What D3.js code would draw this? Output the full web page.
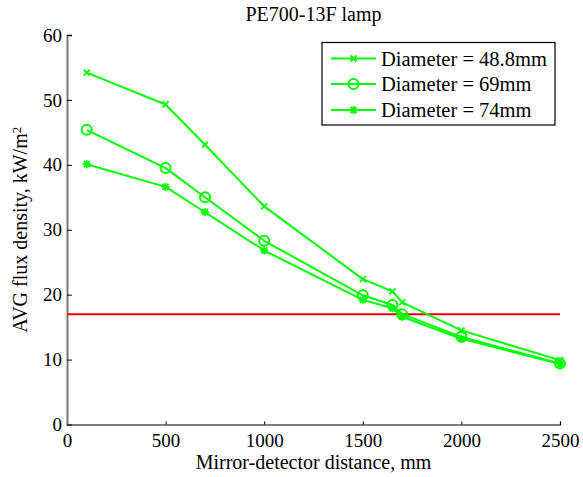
<!DOCTYPE html>
<html>
<head>
<meta charset="utf-8">
<script src="https://cdn.jsdelivr.net/npm/d3@7"></script>
</head>
<body style="margin:0">
<svg id="chart" width="583" height="477"></svg>
<script>
// ---- data ----
const distances = [100, 500, 700, 1000, 1500, 1650, 1700, 2000, 2500];
const flux488 = [54.2, 49.3, 43.1, 33.6, 22.4, 20.5, 18.8, 14.5, 9.9];
const flux69  = [45.4, 39.5, 35.0, 28.3, 19.9, 18.4, 17.0, 13.5, 9.4];
const flux74  = [40.1, 36.6, 32.7, 26.8, 19.2, 17.9, 16.6, 13.2, 9.3];
const seriesNames = ["Diameter = 48.8mm", "Diameter = 69mm", "Diameter = 74mm"];
const seriesMarkers = ["x", "o", "*"];
const thresholdValue = 17;
const xTicks = [0, 500, 1000, 1500, 2000, 2500];
const yTicks = [0, 10, 20, 30, 40, 50, 60];
const titleText = "PE700-13F lamp";
const xLabel = "Mirror-detector distance, mm";
const yLabel = "AVG flux density, kW/m";

const FONT = '"Liberation Serif"';

const series = [flux488, flux69, flux74].map((vals, i) => ({
  name: seriesNames[i], marker: seriesMarkers[i],
  points: distances.map((d, j) => ({x: d, y: vals[j]}))
}));

const svg = d3.select("#chart");
const pLeft = 67, pRight = 560, pTop = 35, pBottom = 424.5;
const x = d3.scaleLinear().domain([0, 2500]).range([pLeft, pRight]);
const y = d3.scaleLinear().domain([0, 60]).range([pBottom, pTop]);
const green = "#00ff00";

function txt(sel, size) {
  return sel.style("font-family", FONT).style("font-size", size + "px").attr("fill", "#000");
}

// axes
const xAxis = svg.append("g").attr("transform", `translate(0,${pBottom})`)
  .call(d3.axisBottom(x).tickValues(xTicks).tickSize(-3).tickPadding(8).tickFormat(d3.format("d")));
xAxis.attr("font-family", null).attr("font-size", null);
xAxis.select(".domain").attr("stroke", "#000").attr("stroke-width", 1.2);
xAxis.selectAll(".tick line").attr("stroke", "#000");
txt(xAxis.selectAll(".tick text"), 19).attr("y", 8).attr("dy", "0.76em");

const yAxis = svg.append("g").attr("transform", `translate(${pLeft},0)`)
  .call(d3.axisLeft(y).tickValues(yTicks).tickSize(-5).tickPadding(5).tickFormat(d3.format("d")));
yAxis.attr("font-family", null).attr("font-size", null);
yAxis.select(".domain").attr("stroke", "#777").attr("stroke-width", 2);
yAxis.selectAll(".tick line").attr("stroke", "#000");
txt(yAxis.selectAll(".tick text"), 19);

// threshold line
svg.append("line")
  .attr("x1", x(0)).attr("x2", x(2500))
  .attr("y1", y(thresholdValue)).attr("y2", y(thresholdValue))
  .attr("stroke", "#ff0000").attr("stroke-width", 2);

// marker drawing
function drawMarker(g, type, cx, cy) {
  if (type === "o") {
    g.append("circle").attr("cx", cx).attr("cy", cy).attr("r", 5)
      .attr("fill", "none").attr("stroke", green).attr("stroke-width", 2);
  } else if (type === "x") {
    const s = 3;
    g.append("path").attr("d", `M${cx-s},${cy-s}L${cx+s},${cy+s}M${cx-s},${cy+s}L${cx+s},${cy-s}`)
      .attr("stroke", green).attr("stroke-width", 1.8).attr("fill", "none");
  } else {
    const s = 4, d = 3;
    g.append("path").attr("d",
      `M${cx-s},${cy}L${cx+s},${cy}M${cx},${cy-s}L${cx},${cy+s}M${cx-d},${cy-d}L${cx+d},${cy+d}M${cx-d},${cy+d}L${cx+d},${cy-d}`)
      .attr("stroke", green).attr("stroke-width", 1.8).attr("fill", "none");
  }
}

const line = d3.line().x(d => x(d.x)).y(d => y(d.y));
series.forEach(s => {
  const g = svg.append("g");
  g.append("path").attr("d", line(s.points)).attr("fill", "none")
    .attr("stroke", green).attr("stroke-width", 2).attr("stroke-linejoin", "round");
  s.points.forEach(p => drawMarker(g, s.marker, x(p.x), y(p.y)));
});

// legend
const lg = svg.append("g");
lg.append("rect").attr("x", 322).attr("y", 42.5).attr("width", 233).attr("height", 82.5)
  .attr("fill", "#fff").attr("stroke", "#000").attr("stroke-width", 1.2);
const rowY = [58.5, 84, 110];
series.forEach((s, i) => {
  const ry = rowY[i];
  lg.append("line").attr("x1", 331).attr("x2", 376).attr("y1", ry).attr("y2", ry)
    .attr("stroke", green).attr("stroke-width", 2);
  drawMarker(lg, s.marker, 353.5, ry);
  txt(lg.append("text"), 20.5).attr("x", 381).attr("y", ry).attr("dy", "0.35em").text(s.name);
});

// title & labels
txt(svg.append("text"), 20).attr("x", (pLeft + pRight) / 2).attr("y", 20.5)
  .attr("text-anchor", "middle").text(titleText);
txt(svg.append("text"), 20).attr("x", (pLeft + pRight) / 2).attr("y", 469)
  .attr("text-anchor", "middle").text(xLabel);
const yl = txt(svg.append("text"), 20)
  .attr("transform", `translate(27,${(pTop + pBottom) / 2}) rotate(-90)`)
  .attr("text-anchor", "middle");
yl.append("tspan").text(yLabel);
yl.append("tspan").attr("dy", "-0.5em").style("font-size", "13px").text("2");
</script>
</body>
</html>
